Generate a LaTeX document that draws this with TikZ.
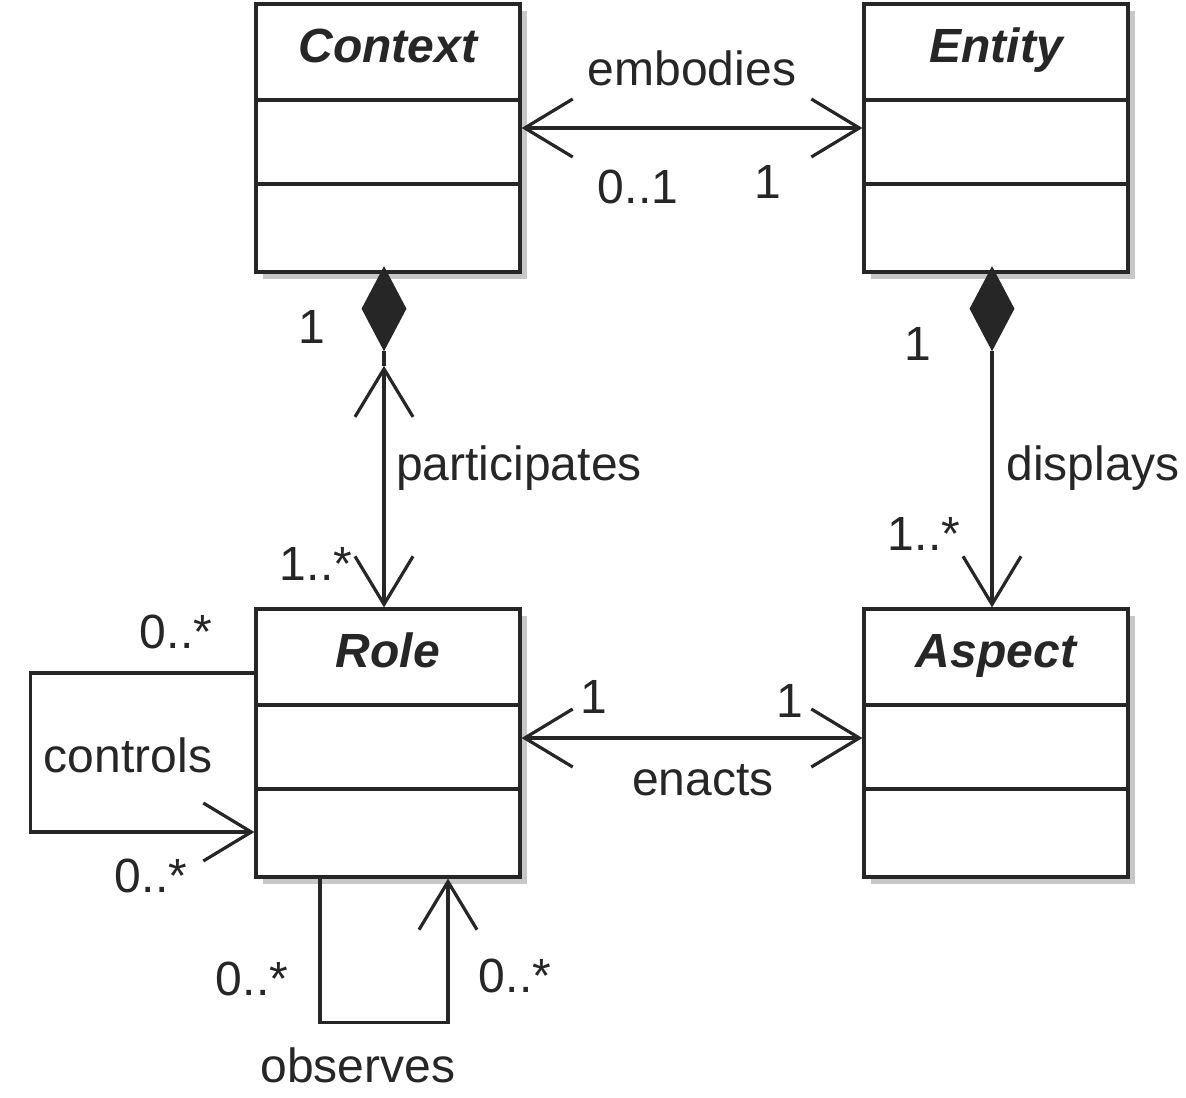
\documentclass[tikz,border=0pt]{standalone}
\usepackage{fontspec}
\setmainfont{Liberation Sans}
\usetikzlibrary{arrows.meta,positioning,shapes.geometric,shadows}
\definecolor{umlink}{RGB}{38,38,38}
\tikzset{
  umlclass/.style={draw=umlink,line width=1.6pt,fill=white,minimum width=132pt,minimum height=134pt,inner sep=0pt,
    drop shadow={shadow xshift=3.5pt,shadow yshift=-3.5pt,fill=black,opacity=0.22}},
  classname/.style={anchor=base,inner sep=0pt,font=\fontsize{24}{28}\selectfont\bfseries\itshape,text=umlink},
  lbl/.style={anchor=base,inner sep=0pt,font=\fontsize{24}{28}\selectfont,text=umlink},
  assoc/.style={draw=umlink,line width=1.6pt},
  navend/.style={-{Straight Barb[length=24pt,width=29pt]}},
  navboth/.style={{Straight Barb[length=24pt,width=29pt]}-{Straight Barb[length=24pt,width=29pt]}},
  compdia/.style={diamond,fill=umlink,draw=umlink,line width=0.6pt,inner sep=0pt,minimum width=22pt,minimum height=41.5pt}
}

\begin{document}
\begin{tikzpicture}[x=0.5pt,y=-0.5pt]
\useasboundingbox (0,0) rectangle (1186,1097);
% classes
\foreach \nm/\txt/\cx/\ty in {ctx/Context/388/4,ent/Entity/996/4,role/Role/388/609,asp/Aspect/996/609}{
  \node[umlclass] (\nm) at (\cx,\ty+134) {};
  \draw[assoc] ([yshift=-48.75pt]\nm.north west) -- ([yshift=-48.75pt]\nm.north east);
  \draw[assoc] ([yshift=-90.75pt]\nm.north west) -- ([yshift=-90.75pt]\nm.north east);
  \node[classname] (\nm-name) at (\cx,\ty+58) {\txt};
}

% embodies
\draw[assoc,navboth] ([yshift=5pt]ctx.east) -- ([yshift=5pt]ent.west);
\node[lbl] (emb) at (692,85) {embodies};
\node[lbl] (embctx) at (638,203) {0..1};
\node[lbl] (embent) at (768,198) {1};

% participates
\node[compdia,anchor=north] (ctxdia) at ([xshift=-2pt,yshift=3.5pt]ctx.south) {};
\coordinate (ptip) at ([yshift=-7.5pt]ctxdia.south);
\draw[assoc] (ctxdia.south) -- (ptip);
\draw[assoc,navboth] (ptip) -- (ptip |- role.north);
\node[lbl] (partctx) at (312,343) {1};
\node[lbl] (part) at (519,480) {participates};
\node[lbl] (partrole) at (316,580) {1..*};

% displays
\node[compdia,anchor=north] (entdia) at ([xshift=-2pt,yshift=3.5pt]ent.south) {};
\draw[assoc,navend] (entdia.south) -- (entdia.south |- asp.north);
\node[lbl] (dispent) at (918,360) {1};
\node[lbl] (disp) at (1093,480) {displays};
\node[lbl] (dispasp) at (924,550) {1..*};

% enacts
\draw[assoc,navboth] ([yshift=2.5pt]role.east) -- ([yshift=2.5pt]asp.west);
\node[lbl] (enrole) at (594,713) {1};
\node[lbl] (enasp) at (790,717) {1};
\node[lbl] (en) at (703,795) {enacts};

% controls
\draw[assoc,navend] ([yshift=35pt]role.west) -- ++(-224,0) |- ([yshift=-44.5pt]role.west);
\node[lbl] (ctlsrc) at (176,648) {0..*};
\node[lbl] (ctl) at (128,772) {controls};
\node[lbl] (ctltgt) at (151,892) {0..*};

% observes
\draw[assoc,navend] ([xshift=-34pt]role.south) -- ++(0,144) -| ([xshift=30pt]role.south);
\node[lbl] (obssrc) at (252,995) {0..*};
\node[lbl] (obstgt) at (515,992) {0..*};
\node[lbl] (obs) at (358,1082) {observes};
\end{tikzpicture}
\end{document}
